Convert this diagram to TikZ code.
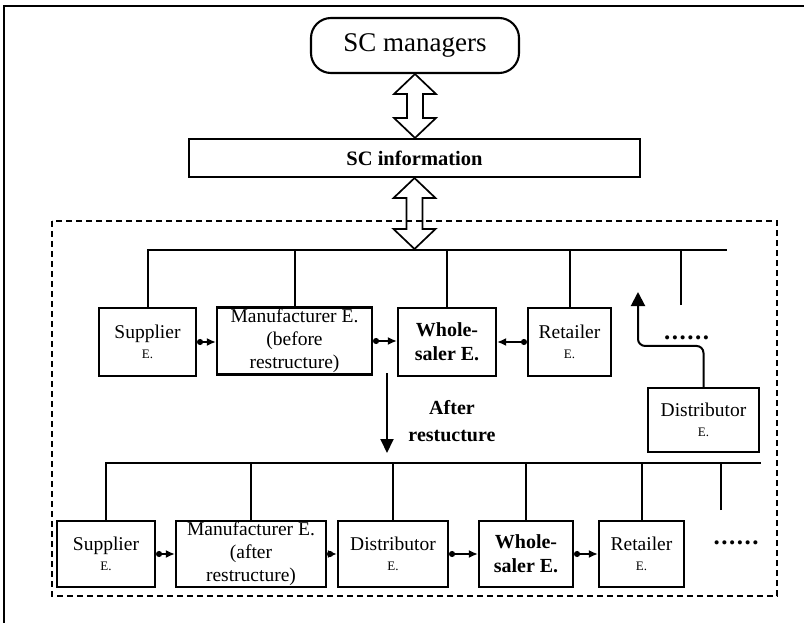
\documentclass[tikz,border=0pt]{standalone}
\usepackage{fontspec}
\setmainfont{Liberation Serif}
\usetikzlibrary{arrows.meta,calc}
\begin{document}
\begin{tikzpicture}[x=1pt,y=-1pt,
  box/.style={draw, line width=2.1pt, inner sep=0pt, align=center, font=\fontsize{19.5}{23}\selectfont},
  upbox/.style={box, minimum height=68pt},
  lowbox/.style={box, minimum height=66pt},
  conn/.style={line width=1.8pt, {Circle[length=6pt,width=6pt]}-{Latex[length=9pt,width=8pt]}},
  bus/.style={line width=2pt},
  fat/.style={draw, line width=1.7pt, line join=miter},
  tipline/.style={line width=2pt, -{Triangle[length=14pt,width=13pt]}},
  dots/.style={font=\fontsize{25}{25}\selectfont\bfseries, inner sep=0pt, anchor=base}]
\useasboundingbox (0,0) rectangle (804,623);
% outer frame
\draw[line width=2.2pt] (4,623) -- (4,6) -- (804,6);
% dashed enterprise area
\draw[line width=1.8pt, dash pattern=on 6pt off 4pt] (52,221) rectangle (777,596);

% top nodes
\node[box, rounded corners=20pt, minimum width=208pt, minimum height=55pt,
      font=\fontsize{27}{30}\selectfont] (mgr) at (415,45.5) {SC managers};
\node[box, minimum width=451pt, minimum height=38pt,
      font=\fontsize{20.5}{24}\selectfont\bfseries] (info) at (414.5,158) {SC information};
\coordinate (busTop) at (414.5,249);

% fat double arrows
\draw[fat] let \p1=(mgr.south), \p2=(info.north) in
  (\x1,\y1) -- (\x1+21pt,\y1-20pt) -- (\x1+8pt,\y1-20pt) -- (\x1+8pt,\y2+20pt)
  -- (\x1+21pt,\y2+20pt) -- (\x1,\y2) -- (\x1-21pt,\y2+20pt) -- (\x1-8pt,\y2+20pt)
  -- (\x1-8pt,\y1-20pt) -- (\x1-21pt,\y1-20pt) -- cycle;
\draw[fat] let \p1=(info.south), \p2=(busTop) in
  (\x1,\y1) -- (\x1+21pt,\y1-20pt) -- (\x1+8pt,\y1-20pt) -- (\x1+8pt,\y2+20pt)
  -- (\x1+21pt,\y2+20pt) -- (\x1,\y2) -- (\x1-21pt,\y2+20pt) -- (\x1-8pt,\y2+20pt)
  -- (\x1-8pt,\y1-20pt) -- (\x1-21pt,\y1-20pt) -- cycle;

% upper row (before restructure)
\node[upbox, minimum width=97pt] (sup1) at (147.5,342) {Supplier\\[-3pt]{\fontsize{13}{13}\selectfont E.}};
\node[upbox, minimum width=155pt, minimum height=67pt] (man1) at (294.5,341) {Manufacturer E.\\(before\\restructure)};
\node[upbox, minimum width=98pt, font=\fontsize{20}{24}\selectfont\bfseries] (who1) at (447,342) {Whole-\\saler E.};
\node[upbox, minimum width=83pt] (ret1) at (569.5,342) {Retailer\\[-3pt]{\fontsize{13}{13}\selectfont E.}};
\node[box, minimum width=111pt, minimum height=64pt] (dist1) at (703.5,420) {Distributor\\[-3pt]{\fontsize{13}{13}\selectfont E.}};
\node[dots] (dotsA) at (686.5,339) {.\kern1.5pt.\kern1.5pt.\kern1.5pt.\kern1.5pt.\kern1.5pt.};

\coordinate (busR) at (727,250);
\draw[bus] (sup1.north) |- (busR);
\foreach \n in {man1,who1,ret1} \draw[bus] (\n.north) -- (\n.north |- busR);
\coordinate (stubA) at (681,305);
\draw[bus] (stubA) -- (stubA |- busR);

\draw[conn] (sup1.east) -- (sup1.east -| man1.west);
\draw[conn] (man1.east) -- (man1.east -| who1.west);
\draw[conn] (ret1.west) -- (ret1.west -| who1.east);

\coordinate (dTip) at (638,292);
\draw[line width=2pt, rounded corners=7pt, -{Triangle[length=14pt,width=14pt]}]
  (dist1.north) -- ++(0,-41) -| (dTip);

% restructure arrow
\coordinate (aS) at (387,373);
\coordinate (aE) at (387,453);
\draw[tipline] (aS) -- (aE);
\node[font=\fontsize{20}{27}\selectfont\bfseries, align=center] (after) at (452,421) {After\\restucture};

% lower row (after restructure)
\node[lowbox, minimum width=98pt] (sup2) at (106,554) {Supplier\\[-3pt]{\fontsize{13}{13}\selectfont E.}};
\node[lowbox, minimum width=150pt] (man2) at (251,554) {Manufacturer E.\\(after\\restructure)};
\node[lowbox, minimum width=110pt] (dist2) at (393,554) {Distributor\\[-3pt]{\fontsize{13}{13}\selectfont E.}};
\node[lowbox, minimum width=94pt, font=\fontsize{20}{24}\selectfont\bfseries] (who2) at (526,554) {Whole-\\saler E.};
\node[lowbox, minimum width=85pt] (ret2) at (641.5,554) {Retailer\\[-3pt]{\fontsize{13}{13}\selectfont E.}};
\node[dots] (dotsB) at (736,544) {.\kern1.5pt.\kern1.5pt.\kern1.5pt.\kern1.5pt.\kern1.5pt.};

\coordinate (busR2) at (761,463);
\draw[bus] (sup2.north) |- (busR2);
\foreach \n in {man2,dist2,who2,ret2} \draw[bus] (\n.north) -- (\n.north |- busR2);
\coordinate (stubB) at (721,510);
\draw[bus] (stubB) -- (stubB |- busR2);

\draw[conn] (sup2.east) -- (man2.west);
\draw[conn] (man2.east) -- (dist2.west);
\draw[conn] (dist2.east) -- (who2.west);
\draw[conn] (who2.east) -- (ret2.west);
\end{tikzpicture}
\end{document}
